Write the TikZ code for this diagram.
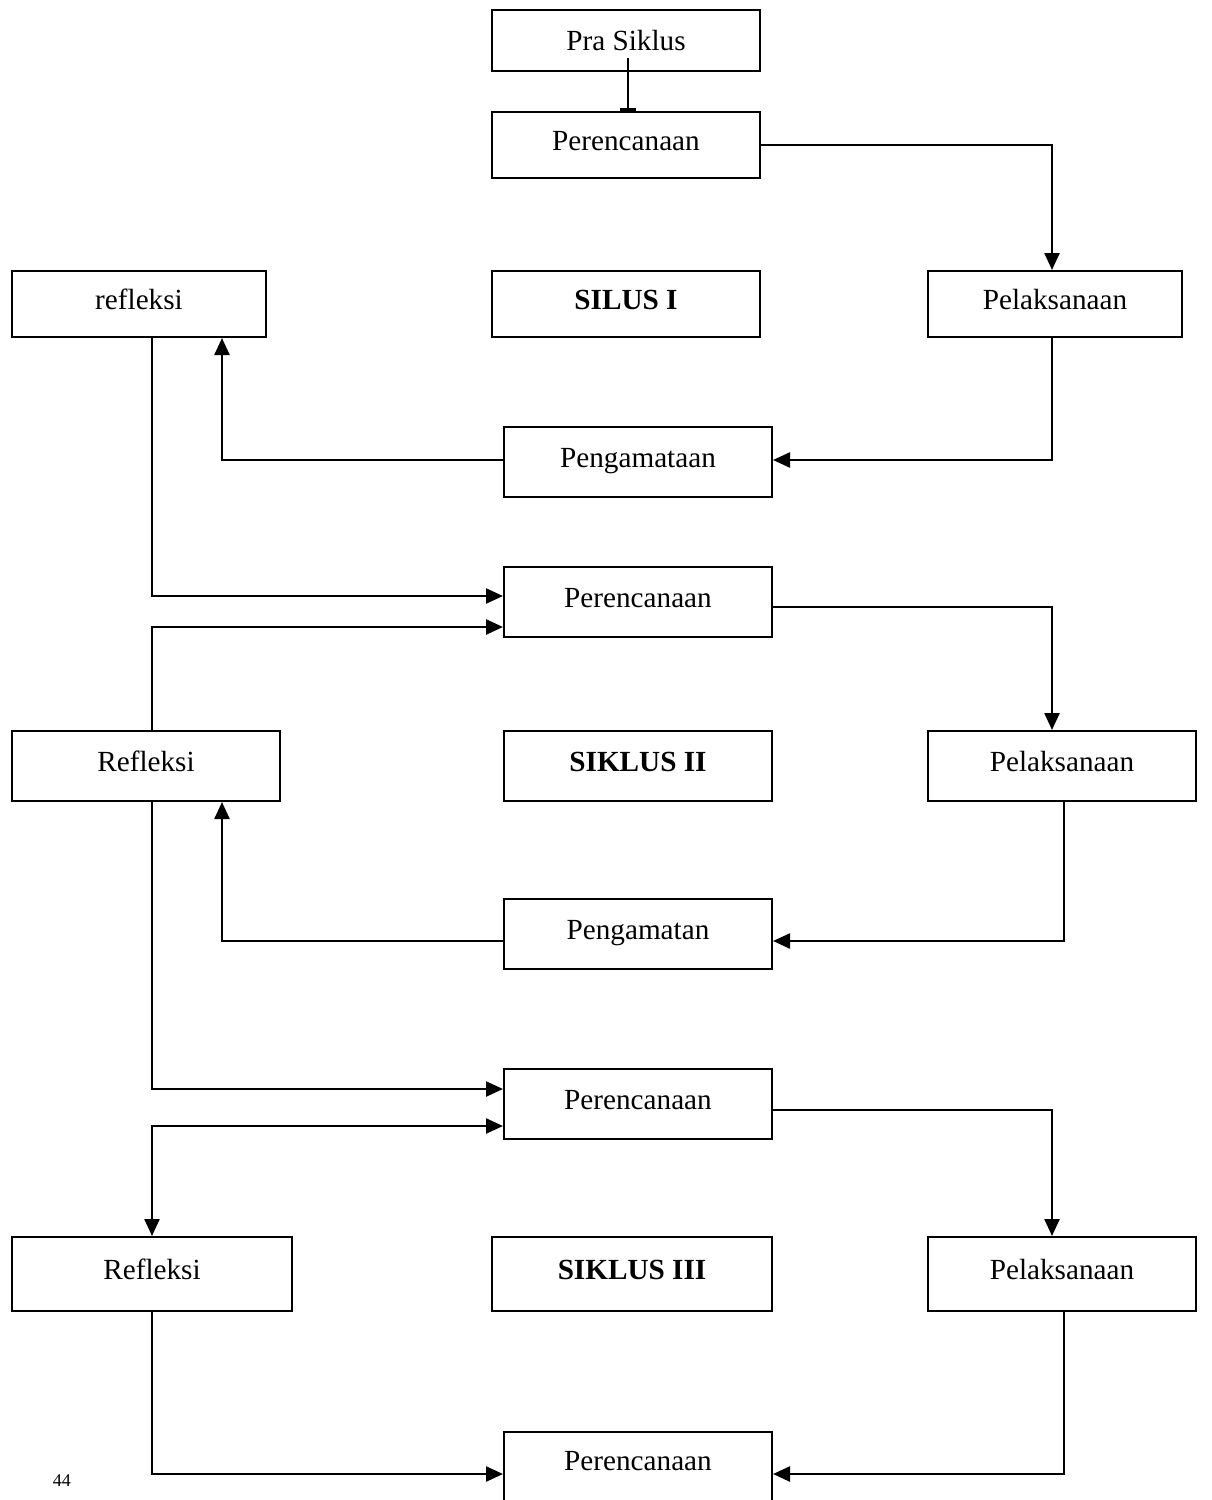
\documentclass[tikz,border=0pt]{standalone}
\usepackage{fontspec}
\setmainfont{Liberation Serif}
\usetikzlibrary{arrows.meta,calc}
\tikzset{
  box/.style={draw, line width=1pt, minimum width=134pt, minimum height=33pt, inner sep=0pt,
    text height=10pt, text depth=5pt, font=\fontsize{14.6}{17}\selectfont},
  arr/.style={line width=1.2pt, -{Triangle[length=8.5pt,width=7.5pt]}},
  dblarr/.style={line width=1.2pt, {Triangle[length=8.5pt,width=7.5pt]}-{Triangle[length=8.5pt,width=7.5pt]}},
  bararr/.style={line width=1.2pt, -{Bar[width=8pt,line width=1.6pt]}}
}
\begin{document}
\begin{tikzpicture}[x=0.5pt,y=-0.5pt]
\useasboundingbox (0,0) rectangle (1211,1500);

% siklus I
\node[box, minimum height=30.5pt, text depth=0pt] (pra) at (626,40.5) {Pra Siklus};
\node[box] (per1) at (626,145) {Perencanaan};
\node[box, minimum width=127pt] (ref1) at (139,304) {refleksi};
\node[box] (sik1) at (626,304) {\bfseries SILUS I};
\node[box, minimum width=127pt] (pel1) at (1055,304) {Pelaksanaan};
\node[box, minimum height=35pt] (pgm1) at (638,462) {Pengamataan};

% siklus II
\node[box, minimum height=35pt] (per2) at (638,602) {Perencanaan};
\node[box, minimum height=35pt] (ref2) at (146,766) {Refleksi};
\node[box, minimum height=35pt] (sik2) at (638,766) {\bfseries SIKLUS II};
\node[box, minimum height=35pt] (pel2) at (1062,766) {Pelaksanaan};
\node[box, minimum height=35pt] (pgm2) at (638,934) {Pengamatan};

% siklus III
\node[box, minimum height=35pt] (per3) at (638,1104) {Perencanaan};
\node[box, minimum width=140pt, minimum height=37pt] (ref3) at (152,1274) {Refleksi};
\node[box, minimum width=140pt, minimum height=37pt] (sik3) at (632,1274) {\bfseries SIKLUS III};
\node[box, minimum height=37pt] (pel3) at (1062,1274) {Pelaksanaan};
\node[box, minimum height=39pt] (per4) at (638,1471) {};
\node[font=\fontsize{14.6}{17}\selectfont] (per4txt) at (638,1461) {Perencanaan};

\node[font=\fontsize{9}{10}\selectfont] (hal) at (62,1481) {44};

\draw[bararr] ($(pra.center)+(2,17)$) -- ($(per1.north)+(2,0)$);
\draw[arr] (per1.east) -| ($(pel1.north)+(-3,0)$);
\draw[arr] ($(pel1.south)+(-3,0)$) |- ($(pgm1.east)+(0,-2)$);
\draw[arr] ($(pgm1.west)+(0,-2)$) -| ($(ref1.south)+(83,0)$);
\draw[arr] ($(ref1.south)+(13,0)$) |- ($(per2.west)+(0,-6)$);

\draw[arr] ($(ref2.north)+(6,0)$) |- ($(per2.west)+(0,25)$);
\draw[arr] ($(per2.east)+(0,5)$) -| ($(pel2.north)+(-10,0)$);
\draw[arr] ($(pel2.south)+(2,0)$) |- ($(pgm2.east)+(0,7)$);
\draw[arr] ($(pgm2.west)+(0,7)$) -| ($(ref2.south)+(76,0)$);
\draw[arr] ($(ref2.south)+(6,0)$) |- ($(per3.west)+(0,-15)$);

\draw[dblarr] ($(per3.west)+(0,22)$) -| (ref3.north);
\draw[arr] ($(per3.east)+(0,6)$) -| ($(pel3.north)+(-10,0)$);
\draw[arr] (ref3.south) |- ($(per4.west)+(0,3)$);
\draw[arr] ($(pel3.south)+(2,0)$) |- ($(per4.east)+(0,3)$);
\end{tikzpicture}
\end{document}
